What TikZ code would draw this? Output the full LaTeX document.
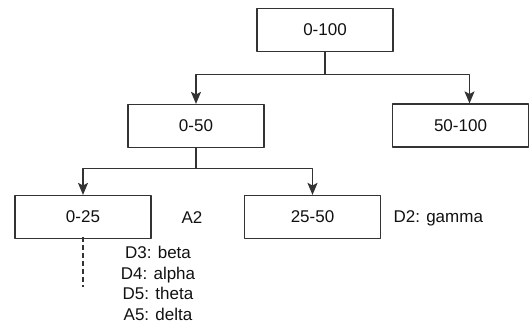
\documentclass[tikz,border=0pt]{standalone}
\usepackage{fontspec}
\setmainfont{Liberation Sans}
\usepackage{tikz}
\usetikzlibrary{arrows.meta}
\definecolor{edge}{HTML}{333333}
\definecolor{ink}{HTML}{111111}
\tikzset{fig/.style={line join=round,>={Stealth[length=12pt,width=10pt,inset=2.5pt]}},
 rng/.style={draw=edge,line width=1.2pt,minimum width=136pt,minimum height=43pt,inner sep=0pt,text=ink}}

\begin{document}
\begin{tikzpicture}[fig,x=1pt,y=-1pt,font=\fontsize{17}{20.5}\selectfont]
 \useasboundingbox (0,0) rectangle (529,325);
 \node[rng](top)at(325,30){0-100};
 \node[rng](lo)at(196,126){0-50};\node[rng](hi)at(460.5,125.5){50-100};
 \node[rng](q1)at(83,217){0-25};\node[rng](q2)at(312.5,217){25-50};
 \draw[edge,line width=1.2pt,->](top.south)--++(0,22)-|(lo.north);
 \draw[edge,line width=1.2pt,->](top.south)--++(0,22)-|([xshift=9pt]hi.north);
 \draw[edge,line width=1.2pt,->](lo.south)--++(0,20)-|(q1.north);
 \draw[edge,line width=1.2pt,->](lo.south)--++(0,20)-|(q2.north);
 \draw[edge,line width=1.2pt,dash pattern=on 5pt off 3pt]([yshift=2pt]q1.south)--++(0,50);
 \node[anchor=west,text=ink](a2)at(178,218){A2};
 \node[anchor=west,text=ink](d2)at(390,218){D2: gamma};
 \node[align=center,text=ink](keys)at(158,283.5){D3: beta\\D4: alpha\\D5: theta\\A5: delta};
\end{tikzpicture}
\end{document}
